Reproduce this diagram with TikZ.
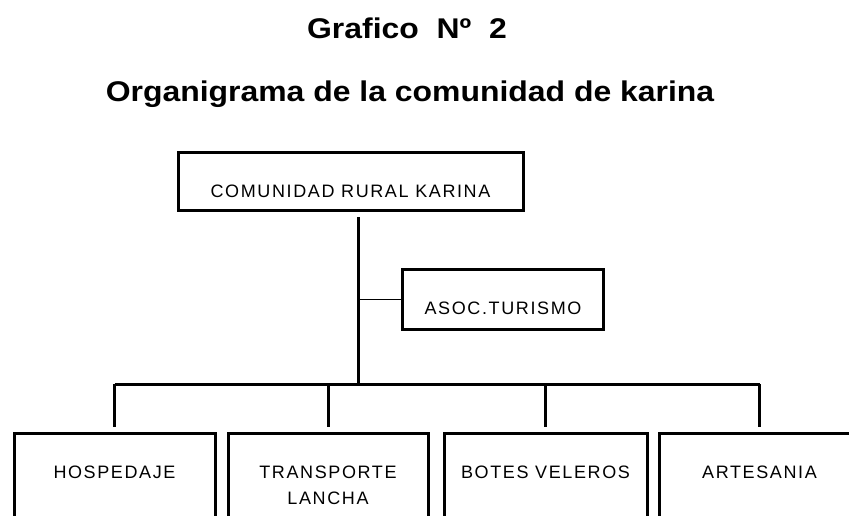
\documentclass[tikz,border=0pt]{standalone}
\usepackage{fontspec}
\setmainfont{Liberation Sans}
\newfontfamily\titlefont[FakeStretch=1.12]{Liberation Sans}
\newfontfamily\boxfont[LetterSpace=9]{Liberation Sans}
\usetikzlibrary{positioning}
\tikzset{
  orgbox/.style={draw, line width=3pt, inner sep=0pt},
  boxtext/.style={inner sep=0pt, align=center,
    font=\boxfont\fontsize{18}{26}\selectfont},
  titletext/.style={inner sep=0pt, anchor=base,
    font=\titlefont\bfseries\fontsize{28.5}{34}\selectfont},
  trunk/.style={line width=3pt},
  branch/.style={line width=1.2pt}
}

\begin{document}
\begin{tikzpicture}[x=1pt, y=-1pt]
\clip (0,0) rectangle (849,516);
% titles
\node[titletext] (grafico) at (407,39) {Grafico\ \ Nº\ \ 2};
\node[titletext] (organigrama) at (410,102) {Organigrama de la comunidad de karina};
% top of the chart
\node[orgbox, minimum width=345pt, minimum height=58pt, anchor=north]
  (karina) at (350.5,151) {};
\node[boxtext, below=33.5pt of karina.north] (karinatxt) {COMUNIDAD RURAL KARINA};
\node[orgbox, minimum width=201pt, minimum height=60pt, anchor=north west]
  (asoc) at (401,268) {};
\node[boxtext, below=33.5pt of asoc.north] (asoctxt) {ASOC.TURISMO};
% bottom row
\node[orgbox, minimum width=201pt, minimum height=120pt, anchor=north]
  (hosp) at (114.5,432) {};
\node[boxtext, below=33.5pt of hosp.north] (hosptxt) {HOSPEDAJE};
\node[orgbox, minimum width=200pt, minimum height=120pt, anchor=north]
  (trans) at (328,432) {};
\node[boxtext, below=33.5pt of trans.north] (transtxt) {TRANSPORTE\\LANCHA};
\node[orgbox, minimum width=203pt, minimum height=120pt, anchor=north]
  (botes) at (545.5,432) {};
\node[boxtext, below=33.5pt of botes.north] (botestxt) {BOTES VELEROS};
\node[orgbox, minimum width=201pt, minimum height=120pt, anchor=north]
  (artes) at (759.5,432) {};
\node[boxtext, below=33.5pt of artes.north] (artestxt) {ARTESANIA};
% connectors
\coordinate (fork) at (358,384);
\draw[trunk, shorten <=5pt] (fork |- karina.south) -- (fork);
\draw[branch] (fork |- asoc.west) -- (asoc.west);
\draw[trunk, shorten >=5pt] (hosp.north |- fork) -- (hosp.north);
\draw[trunk] (hosp.north |- fork) -- (artes.north |- fork);
\draw[trunk, shorten >=5pt] (trans.north |- fork) -- (trans.north);
\draw[trunk, shorten >=5pt] (botes.north |- fork) -- (botes.north);
\draw[trunk, shorten >=5pt] (artes.north |- fork) -- (artes.north);
\end{tikzpicture}
\end{document}
